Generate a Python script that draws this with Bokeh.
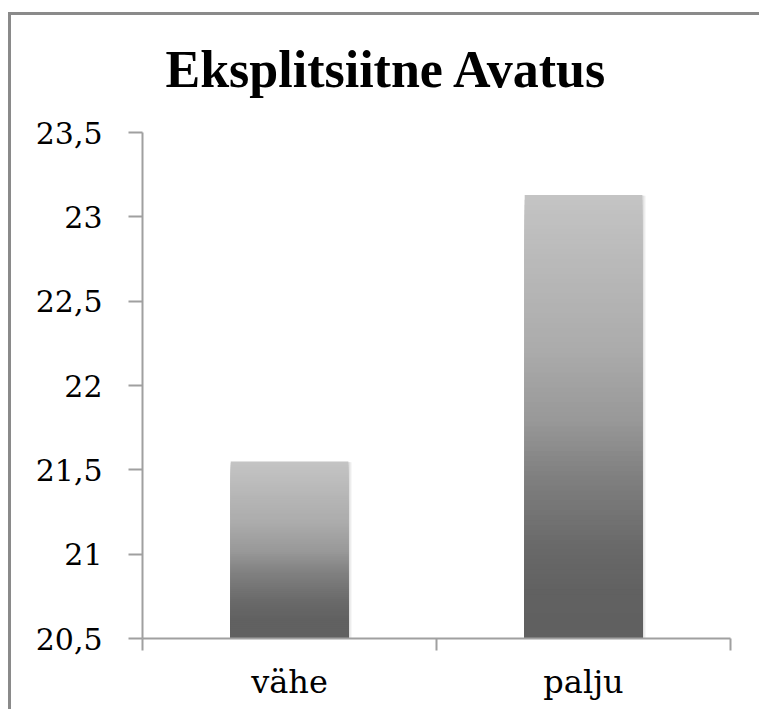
import numpy as np
from bokeh.plotting import figure
from bokeh.models import Range1d, FixedTicker
from bokeh.embed import file_html
from bokeh.resources import INLINE

# ---- data ----
title = "Eksplitsiitne Avatus"
categories = ["vähe", "palju"]
values = [21.55, 23.13]
y_ticks = [20.5, 21.0, 21.5, 22.0, 22.5, 23.0, 23.5]
y_tick_labels = ["20,5", "21", "21,5", "22", "22,5", "23", "23,5"]
y_min, y_max = 20.5, 23.5

# ---- styling ----
grad_pos = [0.0, 0.34, 0.51, 0.62, 0.80, 0.90, 1.0]   # fraction from bar top
grad_gray = [196, 172, 152, 130, 104, 97, 96]
bar_width = 0.4
N = 90
frame_col = "#8a8a8a"

p = figure(width=759, height=709, output_backend="svg", toolbar_location=None,
           x_range=Range1d(0, len(categories)), y_range=Range1d(y_min, y_max),
           min_border_left=142, min_border_right=29, min_border_top=132,
           min_border_bottom=71, background_fill_color=None,
           border_fill_color=None)
p.margin = (0, 0, 0, 0)
p.styles = {
    "background": (f"linear-gradient({frame_col},{frame_col}) 8px 12px / 3px 100% no-repeat, "
                   f"linear-gradient({frame_col},{frame_col}) 8px 12px / 100% 3px no-repeat, "
                   "white")
}

p.title.text = title
p.title.text_font = "Liberation Serif"
p.title.text_font_style = "bold"
p.title.text_font_size = "52px"
p.title.text_color = "black"
p.title.align = "left"
p.title.offset = 23
p.title.standoff = 70

p.outline_line_color = None
p.xgrid.visible = False
p.ygrid.visible = False

def hexgray(g):
    g = int(round(g))
    return "#%02x%02x%02x" % (g, g, g)

for i, v in enumerate(values):
    cx = i + 0.5
    # soft shadow
    for k, a in enumerate([0.05, 0.05, 0.04]):
        dx = 0.004 * (k + 1)
        dy = 0.006 * (k + 1)
        p.quad(left=[cx - bar_width / 2 + dx * 0.5], right=[cx + bar_width / 2 + dx],
               bottom=[y_min - dy], top=[v - dy * 0.3],
               fill_color="black", fill_alpha=a, line_color=None)
    edges = np.linspace(y_min, v, N + 1)
    tops = edges[1:][::-1]
    mids = ((edges[:-1] + edges[1:]) / 2)[::-1]
    frac = (v - mids) / (v - y_min)
    colors = [hexgray(g) for g in np.interp(frac, grad_pos, grad_gray)]
    p.quad(left=[cx - bar_width / 2] * N, right=[cx + bar_width / 2] * N,
           bottom=[y_min] * N, top=list(tops), fill_color=colors, line_color=None)

axis_color = "#a0a0a0"

# x axis
xa = p.xaxis[0]
xa.ticker = FixedTicker(ticks=[i + 0.5 for i in range(len(categories))],
                        minor_ticks=list(range(len(categories) + 1)))
xa.major_label_overrides = {i + 0.5: c for i, c in enumerate(categories)}
xa.axis_line_color = axis_color
xa.axis_line_width = 2
xa.major_tick_line_color = None
xa.major_tick_out = 12
xa.major_tick_in = 0
xa.minor_tick_line_color = axis_color
xa.minor_tick_line_width = 2
xa.minor_tick_out = 12
xa.minor_tick_in = 0
xa.major_label_text_font = "DejaVu Serif"
xa.major_label_text_font_size = "32px"
xa.major_label_text_color = "black"
xa.major_label_standoff = 12

# y axis
ya = p.yaxis[0]
ya.ticker = FixedTicker(ticks=y_ticks, minor_ticks=[])
ya.major_label_overrides = {t: l for t, l in zip(y_ticks, y_tick_labels)}
ya.axis_line_color = axis_color
ya.axis_line_width = 2
ya.major_tick_line_color = axis_color
ya.major_tick_line_width = 2
ya.major_tick_out = 14
ya.major_tick_in = 0
ya.minor_tick_line_color = None
ya.major_label_text_font = "DejaVu Serif"
ya.major_label_text_font_size = "30px"
ya.major_label_text_color = "black"
ya.major_label_standoff = 26

open("out.html", "w").write(file_html(p, INLINE))
